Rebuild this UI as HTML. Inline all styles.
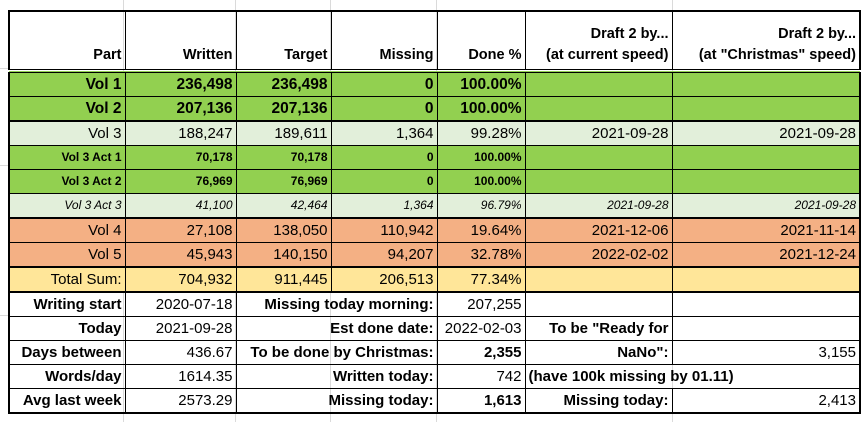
<!DOCTYPE html>
<html><head><meta charset="utf-8"><style>
body{margin:0;width:865px;height:422px;background:#fff;position:relative;overflow:hidden;font-family:"Liberation Sans",sans-serif;color:#000}
.g{position:absolute;background:#dadada}
table{position:absolute;left:8px;top:10px;width:851px;border-collapse:collapse;table-layout:fixed;font-size:15px}
td{border:1px solid #000;padding:0 3px;text-align:right;white-space:nowrap;height:23px;line-height:23px;overflow:visible}
.hd td{height:54px;vertical-align:bottom;font-weight:bold;line-height:21px;padding-bottom:3px;border-bottom:4px double #000;font-size:14.5px}
.G td{background:#92d050}
.L td{background:#e2efda}
.O td{background:#f4b084}
.Y td{background:#ffe699}
.b{font-weight:bold}
.big td{font-weight:bold;font-size:15.5px}
.s td{font-size:12px;font-weight:bold}
.si td{font-size:12px;font-style:italic}
.tt td{border-top:2px solid #000}
.nb{border-right:none}
.nl{border-left:none}
</style></head><body>
<div class="g" style="left:123px;top:0;width:1px;height:422px"></div>
<div class="g" style="left:235px;top:0;width:1px;height:422px"></div>
<div class="g" style="left:330px;top:0;width:1px;height:422px"></div>
<div class="g" style="left:436px;top:0;width:1px;height:422px"></div>
<div class="g" style="left:672px;top:0;width:1px;height:422px"></div>
<div class="g" style="left:0;top:68px;width:8px;height:1px"></div>
<div class="g" style="left:0;top:165px;width:8px;height:1px"></div>
<div class="g" style="left:0;top:315px;width:8px;height:1px"></div>
<table style="border:2px solid #000">
<colgroup><col style="width:116px"><col style="width:111px"><col style="width:95px"><col style="width:106px"><col style="width:88px"><col style="width:147px"><col style="width:188px"></colgroup>
<tr class="hd"><td>Part</td><td>Written</td><td>Target</td><td>Missing</td><td>Done %</td><td>Draft 2 by...<br>(at current speed)</td><td>Draft 2 by...<br>(at "Christmas" speed)</td></tr>
<tr class="G big"><td>Vol 1</td><td>236,498</td><td>236,498</td><td>0</td><td>100.00%</td><td></td><td></td></tr>
<tr class="G big"><td>Vol 2</td><td>207,136</td><td>207,136</td><td>0</td><td>100.00%</td><td></td><td></td></tr>
<tr class="L tt"><td>Vol 3</td><td>188,247</td><td>189,611</td><td>1,364</td><td>99.28%</td><td>2021-09-28</td><td>2021-09-28</td></tr>
<tr class="G s"><td>Vol 3 Act 1</td><td>70,178</td><td>70,178</td><td>0</td><td>100.00%</td><td></td><td></td></tr>
<tr class="G s"><td>Vol 3 Act 2</td><td>76,969</td><td>76,969</td><td>0</td><td>100.00%</td><td></td><td></td></tr>
<tr class="L si"><td>Vol 3 Act 3</td><td>41,100</td><td>42,464</td><td>1,364</td><td>96.79%</td><td>2021-09-28</td><td>2021-09-28</td></tr>
<tr class="O tt"><td>Vol 4</td><td>27,108</td><td>138,050</td><td>110,942</td><td>19.64%</td><td>2021-12-06</td><td>2021-11-14</td></tr>
<tr class="O"><td>Vol 5</td><td>45,943</td><td>140,150</td><td>94,207</td><td>32.78%</td><td>2022-02-02</td><td>2021-12-24</td></tr>
<tr class="Y tt"><td>Total Sum:</td><td>704,932</td><td>911,445</td><td>206,513</td><td>77.34%</td><td></td><td></td></tr>
<tr class="tt"><td class="b">Writing start</td><td>2020-07-18</td><td colspan="2" class="b">Missing today morning:</td><td>207,255</td><td></td><td></td></tr>
<tr><td class="b">Today</td><td>2021-09-28</td><td colspan="2" class="b">Est done date:</td><td>2022-02-03</td><td class="b">To be "Ready for</td><td></td></tr>
<tr><td class="b">Days between</td><td>436.67</td><td colspan="2" class="b">To be done by Christmas:</td><td class="b">2,355</td><td class="b">NaNo":</td><td>3,155</td></tr>
<tr><td class="b">Words/day</td><td>1614.35</td><td colspan="2" class="b">Written today:</td><td>742</td><td class="b nb" style="text-align:left">(have 100k missing by 01.11)</td><td class="nl"></td></tr>
<tr><td class="b">Avg last week</td><td>2573.29</td><td colspan="2" class="b">Missing today:</td><td class="b">1,613</td><td class="b">Missing today:</td><td>2,413</td></tr>
</table>
</body></html>
